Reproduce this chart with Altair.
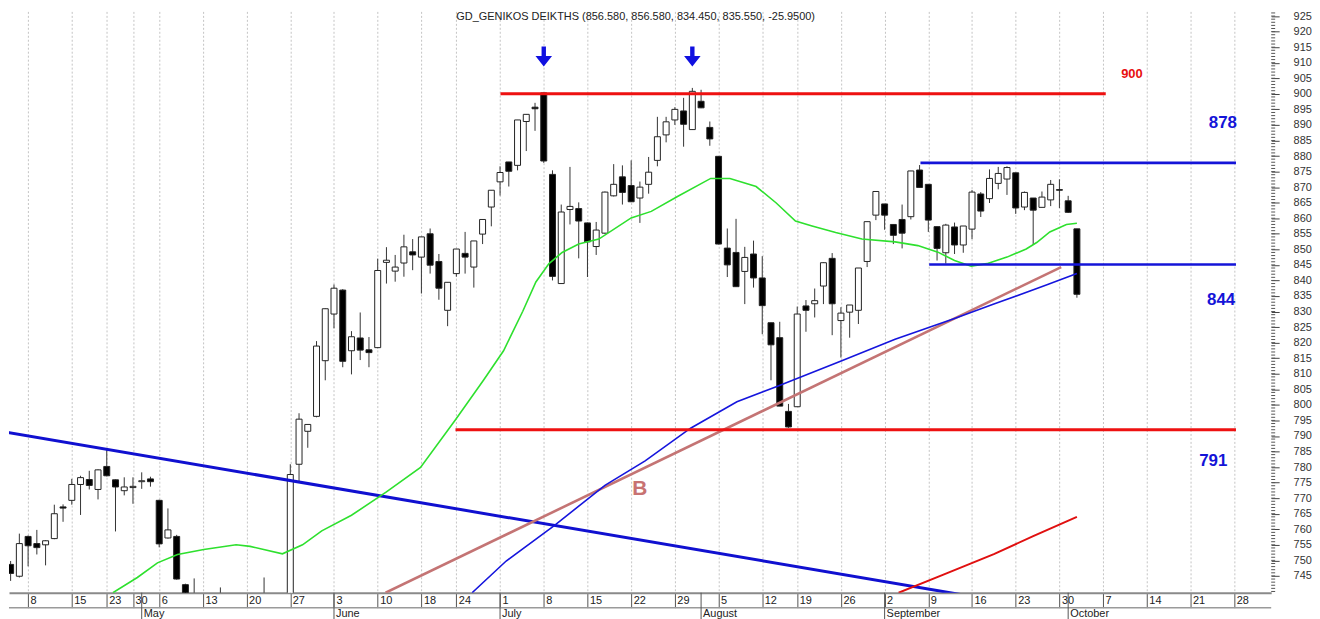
import altair as alt
import pandas as pd

# ---------------- data ----------------
holidays = ["2019-04-19", "2019-04-22", "2019-04-26", "2019-04-29", "2019-05-01",
            "2019-06-17", "2019-08-15"]
all_days = pd.bdate_range("2019-04-04", "2019-10-31")
dates = [d for d in all_days if d.strftime("%Y-%m-%d") not in holidays]

opens = [748.7, 744.9, 757.7, 755.4, 755.0, 757.0, 767.2, 769.3, 774.4, 776.0, 772.8, 780.2, 775.9,
         772.4, 773.4, 775.3, 776.2, 769.3, 757.2, 757.7, 742.2, 736.0, 736.0, 731.0, 733.0, 736.0,
         734.0, 729.0, 727.0, 733.0, 735.0, 731.0, 736.0, 780.9, 791.5, 796.3, 814.2, 829.2, 836.9,
         817.4, 821.5, 817.7, 818.4, 845.8, 843.0, 845.6, 849.2, 847.5, 855.0, 846.1, 830.4, 842.2,
         848.7, 844.3, 854.9, 863.6, 871.7, 878.1, 877.0, 891.1, 895.7, 900.3, 874.1, 839.0, 862.8,
         863.1, 858.5, 850.9, 855.2, 867.2, 873.3, 870.5, 866.5, 870.9, 878.6, 886.8, 891.6, 894.5,
         888.5, 897.6, 889.2, 879.9, 850.4, 849.0, 842.9, 848.5, 840.8, 826.4, 821.6, 797.9, 799.4,
         831.8, 832.5, 838.2, 847.1, 827.1, 829.8, 830.4, 846.1, 861.0, 864.6, 858.0, 859.6, 860.5,
         875.5, 870.9, 857.3, 848.9, 857.2, 851.4, 856.5, 867.8, 866.3, 871.2, 872.6, 874.6, 863.6,
         866.5, 863.5, 865.9, 869.2, 865.6, 856.58]
highs = [749.8, 758.6, 758.0, 759.8, 756.5, 767.9, 768.0, 776.2, 777.2, 778.8, 779.3, 785.7, 776.0,
         776.7, 776.7, 778.3, 776.9, 769.5, 766.7, 758.2, 742.5, 744.2, 738.5, 735.0, 741.3, 739.0,
         737.5, 733.0, 734.0, 744.5, 738.0, 736.0, 780.9, 797.3, 793.7, 820.5, 831.0, 838.7, 837.2,
         823.7, 829.7, 821.8, 847.0, 850.7, 848.2, 854.7, 853.3, 854.0, 856.7, 848.5, 839.4, 850.1,
         855.6, 852.7, 859.6, 869.0, 876.7, 878.1, 891.6, 893.5, 897.1, 900.3, 875.4, 864.4, 876.5,
         865.1, 858.6, 858.8, 868.6, 877.4, 877.0, 878.6, 871.8, 879.7, 892.6, 892.6, 895.7, 898.7,
         901.9, 901.3, 891.1, 880.0, 856.7, 859.8, 850.8, 852.8, 847.8, 826.4, 826.7, 800.3, 831.6,
         833.7, 837.4, 845.8, 848.8, 831.4, 832.1, 844.0, 858.9, 868.6, 864.6, 858.1, 864.4, 875.2,
         877.1, 870.9, 857.3, 858.2, 858.6, 857.5, 869.1, 868.4, 875.7, 876.5, 876.7, 874.6, 868.6,
         866.5, 868.6, 872.3, 872.5, 867.2, 856.58]
lows = [743.4, 744.5, 748.1, 751.9, 748.4, 756.8, 762.4, 767.9, 764.6, 772.8, 769.6, 777.0, 759.3,
        770.9, 768.2, 773.0, 773.7, 754.2, 757.0, 743.8, 734.0, 733.0, 730.0, 726.0, 731.0, 732.0,
        729.0, 724.0, 725.0, 731.0, 729.0, 728.0, 735.0, 775.1, 786.2, 796.0, 807.9, 824.6, 812.1,
        809.8, 814.4, 812.1, 818.2, 839.0, 839.6, 841.2, 843.3, 835.8, 842.2, 833.8, 825.3, 841.2,
        842.2, 837.7, 851.7, 857.4, 867.3, 870.2, 875.4, 881.6, 888.1, 877.8, 840.0, 839.0, 858.0,
        847.1, 841.1, 848.2, 855.0, 867.0, 864.4, 865.2, 858.5, 867.9, 876.7, 884.4, 890.0, 883.0,
        888.4, 895.4, 883.3, 851.6, 841.1, 838.0, 832.4, 837.7, 822.7, 807.9, 799.6, 792.6, 799.4,
        823.5, 828.1, 832.4, 822.4, 815.2, 821.6, 826.0, 844.3, 859.4, 856.3, 851.7, 850.3, 859.6,
        869.9, 855.6, 846.4, 845.4, 848.5, 848.9, 853.3, 860.4, 864.9, 869.3, 867.5, 861.4, 862.6,
        851.4, 863.5, 863.9, 863.3, 861.7, 834.45]
closes = [745.8, 755.4, 754.7, 754.1, 756.3, 765.0, 766.8, 774.4, 776.6, 774.1, 779.1, 777.2, 773.6,
          773.6, 773.8, 775.6, 775.3, 755.3, 759.8, 744.0, 735.5, 737.0, 731.0, 733.0, 736.0, 734.0,
          730.0, 727.0, 732.0, 735.0, 731.0, 734.0, 777.6, 795.4, 793.7, 818.9, 830.9, 837.5, 814.0,
          821.9, 817.6, 816.8, 843.2, 846.5, 844.3, 850.8, 848.2, 854.0, 844.9, 837.5, 839.4, 850.1,
          847.5, 852.7, 859.6, 869.0, 874.7, 875.1, 891.6, 893.4, 895.2, 878.4, 841.3, 862.0, 863.8,
          859.1, 852.4, 856.2, 868.4, 870.9, 868.3, 865.3, 870.0, 874.8, 886.2, 891.0, 895.0, 890.2,
          900.8, 895.5, 885.5, 851.7, 845.0, 838.0, 847.4, 840.8, 831.9, 819.3, 799.6, 792.9, 829.2,
          830.4, 833.5, 845.7, 832.5, 829.5, 832.1, 844.0, 858.9, 868.6, 861.0, 854.5, 855.2, 875.2,
          869.9, 859.4, 850.3, 857.8, 851.4, 857.5, 868.4, 862.3, 872.8, 874.4, 876.3, 863.3, 868.3,
          862.6, 866.8, 870.9, 869.0, 861.9, 835.55]

# moving averages (x = trading-day index)
green_t = [11.7, 14.5, 16.8, 19.1, 22.1, 25.8, 27.4, 31.1, 33.4, 35.6, 39.0, 43.0, 46.9, 50.9, 54.1,
           56.4, 58.6, 60.1, 61.6, 63.1, 65.0, 67.3, 71.0, 73.3, 76.3, 80.1, 82.3, 85.3, 87.6, 89.8,
           91.7, 94.4, 97.4, 101.2, 103.8, 106.1, 108.0, 109.9, 111.7, 114.0, 116.2, 117.4, 118.9,
           120.8, 122.0]
green_v = [739.6, 744.5, 749.2, 751.9, 753.5, 755.0, 754.5, 752.1, 755.0, 759.5, 764.5, 772.0, 779.9,
           795.2, 807.9, 817.4, 830.1, 839.5, 845.4, 849.0, 851.7, 853.3, 860.1, 862.2, 867.0, 872.8,
           872.8, 870.2, 864.9, 859.1, 857.5, 855.4, 853.3, 852.4, 851.2, 849.1, 846.4, 844.6, 845.4,
           847.5, 850.1, 852.2, 855.6, 858.0, 858.4]
blue_t = [52.8, 56.7, 62.2, 68.0, 72.6, 77.8, 83.1, 87.6, 95.1, 101.2, 108.0, 112.5, 118.5, 122.0]
blue_v = [739.6, 749.8, 761.2, 774.1, 782.0, 792.5, 801.0, 805.8, 814.2, 821.1, 827.8, 832.4, 838.5,
          842.2]
red_t = [101.6, 106.8, 112.5, 117.0, 122.0]
red_v = [739.6, 745.5, 752.0, 757.8, 764.0]

# drawn trend / level lines
down_t, down_v = [-0.52, 110.0], [791.2, 738.4]
brown_t, brown_v = [42.9, 120.2], [739.6, 844.3]
r900_t, r900_v = [56.05, 125.3], [900.0, 900.0]
r792_t, r792_v = [50.9, 140.2], [792.0, 792.0]
b878_t, b878_v = [104.1, 140.2], [877.8, 877.8]
b845_t, b845_v = [105.1, 140.2], [845.1, 845.1]

ann_text = ["900", "878", "844", "791"]
ann_t = [128.3, 138.7, 138.5, 137.6]
ann_v = [906.4, 890.7, 833.8, 782.0]
ann_color = ["#E81010", "#1414D8", "#1414D8", "#1414D8"]
ann_size = [13, 17, 17, 17]
b_text, b_t, b_v = ["B"], [72.0], [773.0]
arrow_t = [61, 78]
arrow_v = [912.0, 912.0]
title_text = "GD_GENIKOS DEIKTHS (856.580, 856.580, 834.450, 835.550, -25.9500)"
y_label_values = list(range(745, 930, 5))
minor_tick_values = list(range(740, 927))
month_names = ["January", "February", "March", "April", "May", "June", "July", "August",
               "September", "October", "November", "December"]

# ---------------- layout ----------------
W, H = 1268, 584
X_MIN, X_MAX = 0.384, 143.66
Y_MIN, Y_MAX = 739.6, 926.5
FONT = "Liberation Sans"

xs = alt.Scale(domain=[X_MIN, X_MAX], nice=False, zero=False)
ys = alt.Scale(domain=[Y_MIN, Y_MAX], nice=False, zero=False)

n = len(opens)
candles = pd.DataFrame({"t": list(range(n)), "open": opens, "high": highs, "low": lows,
                        "close": closes})
candles["dir"] = ["up" if c >= o else "down" for o, c in zip(opens, closes)]

# week ticks: first trading day of each calendar week
tick_t, prev = [], None
for t, d in enumerate(dates):
    wk = d.isocalendar()[:2]
    if wk != prev and t >= X_MIN:
        tick_t.append(int(t))
    prev = wk
day_arr = "[" + ",".join("'%d'" % d.day for d in dates) + "]"
label_expr = day_arr + "[round(datum.value)]"

month_t, month_lbl = [], []
for t in range(1, len(dates)):
    if dates[t].month != dates[t - 1].month:
        month_t.append(t)
        month_lbl.append(month_names[dates[t].month - 1])
months = pd.DataFrame({"t": month_t, "name": month_lbl})

x_axis = alt.Axis(values=tick_t, labelExpr=label_expr, orient="bottom", tickSize=15,
                  tickColor="#555555", domainColor="#8a8a8a", domainWidth=2,
                  labelAlign="left", labelBaseline="top", labelPadding=-13, labelOffset=2,
                  labelFontSize=11, labelColor="#222222", labelFont=FONT, labelFlush=False,
                  labelOverlap=False, labelBound=False, grid=True, gridDash=[2, 2],
                  gridColor="#c4c4c4", gridWidth=1, title=None)
y_axis = alt.Axis(values=y_label_values, orient="right", tickSize=8, tickColor="#444444",
                  domain=False, labelFontSize=11, labelColor="#333333", labelFont=FONT,
                  labelPadding=14, grid=False, title=None, labelOverlap=False)


def X(field="t"):
    return alt.X(field, type="quantitative", scale=xs, axis=x_axis, title=None)


def Y(field="v"):
    return alt.Y(field, type="quantitative", scale=ys, axis=y_axis, title=None)


wicks = alt.Chart(candles).mark_rule(color="#333333", strokeWidth=1, clip=True).encode(
    x=X(), y=Y("low"), y2="high:Q",
)
bodies = alt.Chart(candles).mark_bar(size=6, stroke="#222222", strokeWidth=1, clip=True).encode(
    x=X(), y=Y("open"), y2="close:Q",
    fill=alt.Fill("dir:N", scale=alt.Scale(domain=["up", "down"], range=["white", "black"]),
                  legend=None),
)


def line_layer(ts, vs, color, width):
    df = pd.DataFrame({"t": ts, "v": vs})
    return alt.Chart(df).mark_line(color=color, strokeWidth=width, clip=True).encode(x=X(), y=Y())


lines = [
    line_layer(down_t, down_v, "#1010D0", 3),
    line_layer(brown_t, brown_v, "#C47474", 2.6),
    line_layer(blue_t, blue_v, "#1515DD", 1.6),
    line_layer(green_t, green_v, "#2EE02E", 1.6),
    line_layer(red_t, red_v, "#E01010", 2),
    line_layer(r900_t, r900_v, "#EE1111", 3),
    line_layer(r792_t, r792_v, "#EE1111", 3),
    line_layer(b878_t, b878_v, "#1414D8", 2.6),
    line_layer(b845_t, b845_v, "#1414D8", 2.6),
]

ann_df = pd.DataFrame({"text": ann_text, "t": ann_t, "v": ann_v, "c": ann_color, "s": ann_size})
ann = alt.Chart(ann_df).mark_text(fontWeight="bold", font=FONT, baseline="middle",
                                  align="center").encode(
    x=X(), y=Y(), text="text:N",
    color=alt.Color("c:N", scale=None, legend=None),
    size=alt.Size("s:Q", scale=None, legend=None),
)
b_lbl = alt.Chart(pd.DataFrame({"text": b_text, "t": b_t, "v": b_v})).mark_text(
    fontWeight="bold", font=FONT, fontSize=21, color="#C87272", baseline="middle",
    align="center").encode(x=X(), y=Y(), text="text:N")

arrow_path = ("M-0.22,-1 L0.22,-1 L0.22,-0.05 L0.83,-0.05 L0,1 L-0.83,-0.05 "
              "L-0.22,-0.05 Z")
arrows = alt.Chart(pd.DataFrame({"t": arrow_t, "v": arrow_v})).mark_point(
    shape=arrow_path, size=400, filled=True, color="#1010E0", opacity=1, strokeWidth=0).encode(
    x=X(), y=Y())

title = alt.Chart(pd.DataFrame({"text": [title_text]})).mark_text(
    font=FONT, fontSize=11, color="#222222", baseline="middle", align="center").encode(
    x=alt.value(629.5), y=alt.value(5.5), text="text:N")

minor = alt.Chart(pd.DataFrame({"v": minor_tick_values})).mark_rule(
    color="#555555", strokeWidth=1).encode(
    y=Y(), x=alt.value(W), x2=alt.value(W + 4))

second_line = alt.Chart(pd.DataFrame({"a": [0]})).mark_rule(
    color="#9a9a9a", strokeWidth=1.5).encode(
    x=alt.value(0), x2=alt.value(W), y=alt.value(H + 15))
month_rules = alt.Chart(months).mark_rule(color="#555555", strokeWidth=1).encode(
    x=X(), y=alt.value(H), y2=alt.value(H + 27))
month_text = alt.Chart(months).mark_text(
    font=FONT, fontSize=11, color="#222222", align="left", baseline="middle", dx=2).encode(
    x=X(), y=alt.value(H + 21), text="name:N")

chart = alt.layer(
    wicks, bodies, *lines, ann, b_lbl, arrows, title, minor, second_line, month_rules, month_text
).properties(width=W, height=H, padding=0, background="white").configure_view(stroke=None)

chart.save("out.html", embed_options={"renderer": "svg", "actions": False})
